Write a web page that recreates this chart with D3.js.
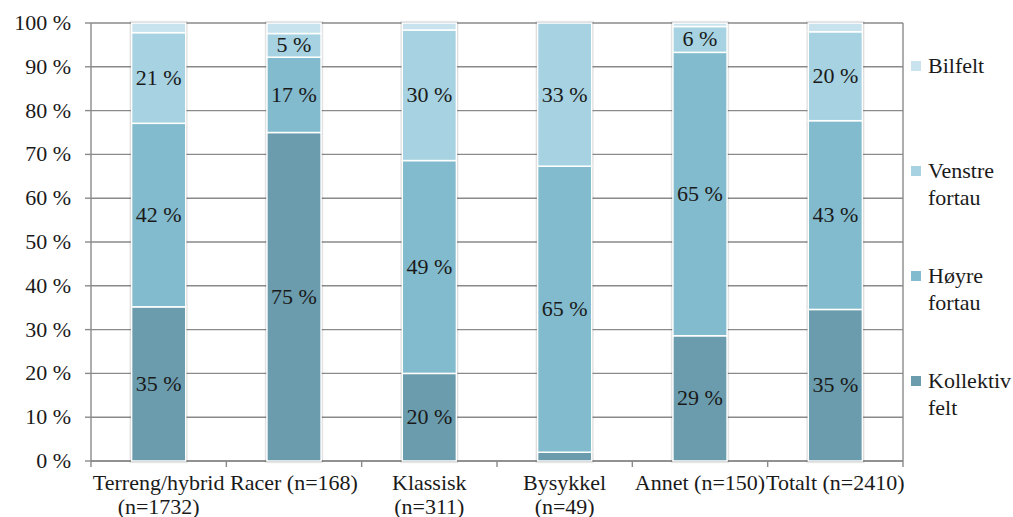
<!DOCTYPE html>
<html>
<head>
<meta charset="utf-8">
<script src="https://cdn.jsdelivr.net/npm/d3@7"></script>
</head>
<body style="margin:0">
<svg id="chart" width="1013" height="517" style="display:block"></svg>
<script>
// Categories (bicycle types) and their tick labels, one array per line
const categories = ["Terreng/hybrid", "Racer", "Klassisk", "Bysykkel", "Annet", "Totalt"];
const categoryLabels = [
  ["Terreng/hybrid", "(n=1732)"],
  ["Racer (n=168)"],
  ["Klassisk", "(n=311)"],
  ["Bysykkel", "(n=49)"],
  ["Annet (n=150)"],
  ["Totalt (n=2410)"]
];

// Share (%) per position, stacked from the bottom
const kollektivFelt = [35.2, 75.0, 20.0, 2.0, 28.6, 34.6];
const hoyreFortau   = [41.9, 17.2, 48.6, 65.3, 64.7, 43.1];
const venstreFortau = [20.7, 5.4, 29.8, 32.7, 5.9, 20.3];
const bilfelt       = [2.2, 2.4, 1.6, 0.0, 0.8, 2.0];

const seriesNames = ["Kollektiv felt", "Høyre fortau", "Venstre fortau", "Bilfelt"];
const seriesValues = [kollektivFelt, hoyreFortau, venstreFortau, bilfelt];
const seriesColors = ["#6a9cad", "#82bbcd", "#a6d2e1", "#c8e3ed"];
const legendLines = [["Kollektiv", "felt"], ["Høyre", "fortau"], ["Venstre", "fortau"], ["Bilfelt"]];

const yTicks = [0, 10, 20, 30, 40, 50, 60, 70, 80, 90, 100];

const svg = d3.select("#chart");
const plot = { left: 91, right: 903, top: 23, bottom: 461 };
const FONT = '"Liberation Serif", "Times New Roman", "DejaVu Serif", serif';
const fontSize = 22;
const textColor = "#1a1a1a";
const gridColor = "#8a8a8a";

const x = d3.scaleBand().domain(categories).range([plot.left, plot.right]).paddingInner(0.6).paddingOuter(0.3);
const band = d3.scaleBand().domain(categories).range([plot.left, plot.right]);
const y = d3.scaleLinear().domain([0, 100]).range([plot.bottom, plot.top]);

function styleText(sel) {
  return sel.style("font-family", FONT).style("font-size", fontSize + "px").attr("fill", textColor);
}

// Horizontal gridlines
svg.append("g").selectAll("line").data(yTicks).join("line")
  .attr("x1", plot.left).attr("x2", plot.right)
  .attr("y1", d => y(d)).attr("y2", d => y(d))
  .attr("stroke", gridColor).attr("stroke-width", 1.4);

// Right border of the plot area
svg.append("line")
  .attr("x1", plot.right).attr("x2", plot.right)
  .attr("y1", plot.top).attr("y2", plot.bottom)
  .attr("stroke", gridColor).attr("stroke-width", 1.4);

// Y axis: line, ticks and percent labels
svg.append("line").attr("x1", plot.left).attr("x2", plot.left)
  .attr("y1", plot.top).attr("y2", plot.bottom)
  .attr("stroke", gridColor).attr("stroke-width", 1.4);
svg.append("g").selectAll("line").data(yTicks).join("line")
  .attr("x1", plot.left - 6).attr("x2", plot.left)
  .attr("y1", d => y(d)).attr("y2", d => y(d))
  .attr("stroke", gridColor).attr("stroke-width", 1.4);
styleText(svg.append("g").selectAll("text").data(yTicks).join("text"))
  .attr("text-anchor", "end")
  .attr("x", plot.left - 20)
  .attr("y", d => y(d) + 7)
  .text(d => d + " %");

// X axis with ticks at category boundaries
const boundaries = categories.map(c => band(c)).concat([plot.right]);
svg.append("line").attr("x1", plot.left).attr("x2", plot.right)
  .attr("y1", plot.bottom).attr("y2", plot.bottom)
  .attr("stroke", gridColor).attr("stroke-width", 1.4);
svg.append("g").selectAll("line").data(boundaries).join("line")
  .attr("x1", d => d).attr("x2", d => d)
  .attr("y1", plot.bottom).attr("y2", plot.bottom + 6)
  .attr("stroke", gridColor).attr("stroke-width", 1.4);

// Category labels
const xl = styleText(svg.append("g").selectAll("text").data(categories).join("text"))
  .attr("text-anchor", "middle")
  .attr("x", d => band(d) + band.bandwidth() / 2)
  .attr("y", 490);
xl.each(function (d, i) {
  d3.select(this).selectAll("tspan").data(categoryLabels[i]).join("tspan")
    .attr("x", band(d) + band.bandwidth() / 2)
    .attr("dy", (t, j) => j === 0 ? 0 : 24)
    .text(t => t);
});

// Stacked bars
const table = categories.map((c, i) => {
  const row = { category: c };
  seriesNames.forEach((s, k) => row[s] = seriesValues[k][i]);
  return row;
});
const stacked = d3.stack().keys(seriesNames)(table);
const total = d => d3.sum(seriesNames, s => d[s]);

const bars = svg.append("g");
// soft grey edge behind each bar
[4.5, 2.5].forEach((w, j) => {
  bars.append("g").selectAll("rect").data(table).join("rect")
    .attr("x", d => x(d.category))
    .attr("width", x.bandwidth())
    .attr("y", d => y(total(d)))
    .attr("height", d => y(0) - y(total(d)))
    .attr("fill", "none")
    .attr("stroke", "#000")
    .attr("stroke-opacity", j === 0 ? 0.07 : 0.12)
    .attr("stroke-width", w);
});

stacked.forEach((layer, k) => {
  bars.append("g").selectAll("rect").data(layer.filter(d => d[1] - d[0] > 0)).join("rect")
    .attr("x", d => x(d.data.category))
    .attr("width", x.bandwidth())
    .attr("y", d => y(d[1]))
    .attr("height", d => y(d[0]) - y(d[1]))
    .attr("fill", seriesColors[k])
    .attr("stroke", "#fff")
    .attr("stroke-width", 1.5);
});

// Value labels inside segments
stacked.forEach((layer, k) => {
  styleText(svg.append("g").selectAll("text").data(layer.filter(d => d[1] - d[0] >= 4.5)).join("text"))
    .attr("text-anchor", "middle")
    .attr("x", d => x(d.data.category) + x.bandwidth() / 2)
    .attr("y", d => (y(d[0]) + y(d[1])) / 2 + 7)
    .text(d => Math.round(d[1] - d[0]) + " %");
});

// Legend (top to bottom: Bilfelt, Venstre fortau, Høyre fortau, Kollektiv felt)
const legendOrder = [3, 2, 1, 0];
const legend = svg.append("g");
legendOrder.forEach((k, i) => {
  const cy = 66 + i * 105;
  legend.append("rect")
    .attr("x", 911).attr("y", cy - 5).attr("width", 10).attr("height", 10)
    .attr("fill", seriesColors[k]);
  const t = styleText(legend.append("text")).attr("x", 928).attr("y", cy + 7);
  t.selectAll("tspan").data(legendLines[k]).join("tspan")
    .attr("x", 928)
    .attr("dy", (s, j) => j === 0 ? 0 : 27)
    .text(s => s);
});
</script>
</body>
</html>
